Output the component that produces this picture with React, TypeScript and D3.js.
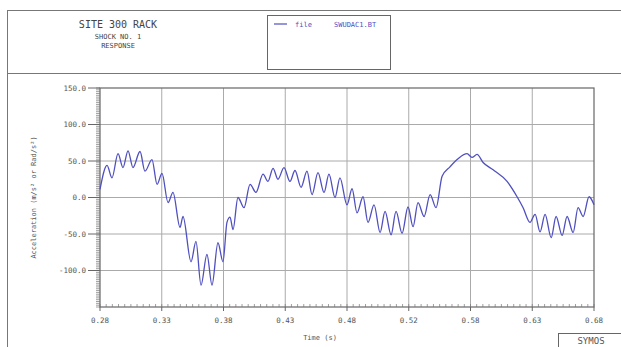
import React from 'react';
import * as d3 from 'd3';

// time (s) and acceleration (peaks and troughs)
const times = [
  0.2800, 0.2857, 0.2897, 0.2946, 0.2986, 0.3027, 0.3067, 0.3124, 0.3164, 0.3221,
  0.3262, 0.3302, 0.3351, 0.3391, 0.3448, 0.3472, 0.3537, 0.3577, 0.3618, 0.3666,
  0.3707, 0.3755, 0.3796, 0.3828, 0.3853, 0.3877, 0.3917, 0.3966, 0.4015, 0.4063,
  0.4120, 0.4160, 0.4201, 0.4241, 0.4290, 0.4338, 0.4379, 0.4428, 0.4476, 0.4517,
  0.4565, 0.4614, 0.4654, 0.4703, 0.4743, 0.4800, 0.4841, 0.4881, 0.4930, 0.4970,
  0.5019, 0.5068, 0.5108, 0.5157, 0.5197, 0.5246, 0.5294, 0.5335, 0.5375, 0.5424,
  0.5473, 0.5521, 0.5570, 0.5634, 0.5699, 0.5772, 0.5812, 0.5853, 0.5902, 0.5983,
  0.6096, 0.6177, 0.6226, 0.6282, 0.6323, 0.6363, 0.6404, 0.6453, 0.6493, 0.6542,
  0.6582, 0.6631, 0.6671, 0.6712, 0.6760, 0.6800,
];
const accel = [
  11, 44, 27, 60, 41, 64, 41, 63, 36, 52,
  18, 33, -7, 7, -41, -26, -88, -60, -120, -78,
  -120, -62, -88, -34, -27, -44, 0, -14, 18, 7,
  32, 22, 40, 25, 41, 22, 37, 14, 36, 4,
  34, 7, 32, 0, 27, -10, 12, -21, 1, -34,
  -10, -48, -19, -51, -19, -49, -13, -40, -7, -26,
  4, -14, 29, 42, 53, 60, 55, 59, 48, 38,
  22, 1, -14, -34, -23, -47, -23, -55, -26, -52,
  -26, -48, -14, -26, 1, -10,
];

const xTicks = [0.28, 0.33, 0.38, 0.43, 0.48, 0.53, 0.58, 0.63, 0.68];
const xTickLabels = ['0.28', '0.33', '0.38', '0.43', '0.48', '0.52', '0.58', '0.63', '0.68'];
const yTicks = [150, 100, 50, 0, -50, -100];
const yTickLabels = ['150.0', '100.0', '50.0', '0.0', '-50.0', '-100.0'];

const titleLines = ['SITE 300 RACK', 'SHOCK NO. 1', 'RESPONSE'];
const legendName = 'file';
const legendFile = 'SWUDAC1.BT';

const W = 621;
const H = 347;
const plot = { left: 100, right: 594, top: 88, bottom: 307 };
const font = '"DejaVu Sans Mono", "Liberation Mono", monospace';
const textColor = '#555';
const lineColor = '#4f4fbf';

export default function App() {
  const x = d3.scaleLinear().domain([0.28, 0.68]).range([plot.left, plot.right]);
  const y = d3.scaleLinear().domain([-150, 150]).range([plot.bottom, plot.top]);

  const points = times.map((t, i) => [t, accel[i]] as [number, number]);
  const path = d3.line<[number, number]>()
    .x(d => x(d[0]))
    .y(d => y(d[1]))
    .curve(d3.curveMonotoneX)(points);

  const xMinor = d3.range(0, 81).map(i => 0.28 + i * 0.005);
  const yMinor = d3.range(0, 121).map(i => -150 + i * 2.5);

  return (
    <svg width={W} height={H} style={{ position: 'absolute', left: 0, top: 0, background: '#fff' }}>
      {/* header frame */}
      <rect x={7.5} y={10.5} width={W} height={63} fill="none" stroke="#777" />
      <line x1={7.5} x2={7.5} y1={73} y2={H} stroke="#777" />
      {titleLines.map((t, i) => (
        <text key={t} x={118} y={i === 0 ? 28 : 39 + (i - 1) * 9}
          textAnchor="middle" fontFamily={font} fontSize={i === 0 ? 10 : 7} fill="#444">{t}</text>
      ))}

      {/* legend */}
      <rect x={267.5} y={15.5} width={123} height={54} fill="none" stroke="#666" />
      <line x1={274} x2={287} y1={24} y2={24} stroke={lineColor} strokeWidth={1.2} />
      <text x={295} y={26.5} fontFamily={font} fontSize={7} fill={lineColor}>{legendName}</text>
      <text x={334} y={26.5} fontFamily={font} fontSize={7} fill={lineColor}>{legendFile}</text>

      {/* grid */}
      {yTicks.slice(1).map(v => (
        <line key={'gy' + v} x1={plot.left} x2={plot.right} y1={y(v)} y2={y(v)}
          stroke="#aaa" strokeWidth={1} />
      ))}
      {xTicks.slice(1, -1).map(v => (
        <line key={'gx' + v} x1={x(v)} x2={x(v)} y1={plot.top} y2={plot.bottom}
          stroke="#aaa" strokeWidth={1} />
      ))}

      {/* frame */}
      <rect x={plot.left} y={plot.top} width={plot.right - plot.left} height={plot.bottom - plot.top}
        fill="none" stroke="#666" strokeWidth={1.2} />

      {/* y ticks */}
      {yMinor.map((v, i) => (
        <line key={'my' + i} x1={plot.left - 4} x2={plot.left} y1={y(v)} y2={y(v)} stroke="#777" strokeWidth={0.7} />
      ))}
      {yTicks.map((v, i) => (
        <g key={'ty' + v}>
          <line x1={plot.left - 12} x2={plot.left} y1={y(v)} y2={y(v)} stroke="#666" />
          <text x={plot.left - 14} y={y(v) + 2.5} textAnchor="end" fontFamily={font} fontSize={7.5}
            fill={textColor}>{yTickLabels[i]}</text>
        </g>
      ))}

      {/* x ticks */}
      {xMinor.map((v, i) => (
        <line key={'mx' + i} x1={x(v)} x2={x(v)} y1={plot.bottom} y2={plot.bottom - 3} stroke="#777" strokeWidth={0.7} />
      ))}
      {xTicks.map((v, i) => (
        <g key={'tx' + v}>
          <line x1={x(v)} x2={x(v)} y1={plot.bottom} y2={plot.bottom + 4} stroke="#666" />
          <text x={x(v)} y={plot.bottom + 16} textAnchor="middle" fontFamily={font} fontSize={7.5}
            fill={textColor}>{xTickLabels[i]}</text>
        </g>
      ))}

      {/* axis titles */}
      <text x={320} y={340} textAnchor="middle" fontFamily={font} fontSize={7} fill={textColor}>Time (s)</text>
      <text transform={`translate(36,${(plot.top + plot.bottom) / 2}) rotate(-90)`} textAnchor="middle"
        fontFamily={font} fontSize={7} fill={textColor}>Acceleration (m/s² or Rad/s²)</text>

      {/* trace */}
      <path d={path ?? ''} fill="none" stroke={lineColor} strokeWidth={1.3} />

      {/* stamp */}
      <rect x={558.5} y={333.5} width={70} height={20} fill="#fff" stroke="#666" />
      <text x={591} y={344} textAnchor="middle" fontFamily={font} fontSize={9} fill="#555">SYMOS</text>
    </svg>
  );
}
